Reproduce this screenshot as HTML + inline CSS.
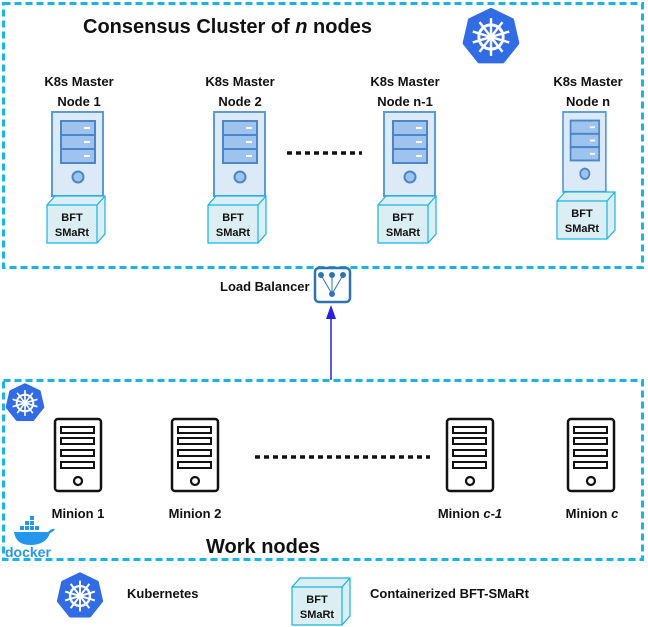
<!DOCTYPE html>
<html><head><meta charset="utf-8"><style>
html,body{margin:0;padding:0;background:#fff;}
svg{display:block;font-family:"Liberation Sans",sans-serif;}
.t{font-weight:bold;fill:#111;}
</style></head><body>
<svg width="648" height="627" viewBox="0 0 648 627" xmlns="http://www.w3.org/2000/svg">
<defs>
<g id="srv">
  <rect x="0" y="0" width="51" height="84" fill="#dceaf7" stroke="#5b9bd5" stroke-width="2"/>
  <rect x="9" y="9" width="34" height="14" fill="#9dc3ee" stroke="#4a86c8" stroke-width="2"/>
  <rect x="9" y="23" width="34" height="14" fill="#9dc3ee" stroke="#4a86c8" stroke-width="2"/>
  <rect x="9" y="37" width="34" height="14" fill="#9dc3ee" stroke="#4a86c8" stroke-width="2"/>
  <rect x="32" y="15" width="6" height="2" fill="#fff"/>
  <rect x="32" y="29" width="6" height="2" fill="#fff"/>
  <rect x="32" y="43" width="6" height="2" fill="#fff"/>
  <circle cx="26" cy="65" r="5.5" fill="#9dc3ee" stroke="#4a86c8" stroke-width="2"/>
</g>
<g id="bft">
  <polygon points="0,9 8,0 58,0 58,38 50,47 0,47" fill="#dbeef3" stroke="#19b4e6" stroke-width="1.2"/>
  <polyline points="0,9 50,9 58,0 M50,9 50,47" fill="none" stroke="#19b4e6" stroke-width="1.2"/>
  <line x1="50" y1="9" x2="50" y2="47" stroke="#19b4e6" stroke-width="1.2"/>
  <text x="25" y="25" font-size="11" text-anchor="middle" class="t">BFT</text>
  <text x="25" y="40" font-size="11" text-anchor="middle" class="t">SMaRt</text>
</g>
<g id="min">
  <rect x="0" y="0" width="46" height="72" rx="3" fill="#fff" stroke="#111" stroke-width="2.5"/>
  <rect x="6" y="8" width="33" height="6" fill="#fff" stroke="#111" stroke-width="2"/>
  <rect x="6" y="19" width="33" height="6" fill="#fff" stroke="#111" stroke-width="2"/>
  <rect x="6" y="31" width="33" height="6" fill="#fff" stroke="#111" stroke-width="2"/>
  <rect x="6" y="43" width="33" height="6" fill="#fff" stroke="#111" stroke-width="2"/>
  <circle cx="23" cy="62" r="4" fill="#fff" stroke="#111" stroke-width="2.2"/>
</g>
<g id="k8s">
  <polygon points="0,-20 15.6,-12.5 19.5,4.5 8.7,18 -8.7,18 -19.5,4.5 -15.6,-12.5" fill="#326ce5" stroke="#326ce5" stroke-width="3" stroke-linejoin="round"/>
  <circle cx="0" cy="0" r="9" fill="none" stroke="#fff" stroke-width="2.2"/>
  <circle cx="0" cy="0" r="2.5" fill="#fff"/>
  <g stroke="#fff" stroke-width="1.8">
    <line x1="0" y1="-14" x2="0" y2="14"/>
    <line x1="-13.5" y1="-4" x2="13.5" y2="4"/>
    <line x1="13.5" y1="-4" x2="-13.5" y2="4"/>
    <line x1="-8.5" y1="11" x2="8.5" y2="-11"/>
    <line x1="8.5" y1="11" x2="-8.5" y2="-11"/>
  </g>
</g>
</defs>

<!-- top cluster -->
<rect x="3.5" y="3.5" width="639" height="264" fill="none" stroke="#19b4e6" stroke-width="3" stroke-dasharray="7,4"/>
<text x="83" y="33" font-size="20" class="t">Consensus Cluster of <tspan font-style="italic">n</tspan> nodes</text>
<use href="#k8s" transform="translate(491,37) scale(1.35)"/>

<g font-size="13" class="t" text-anchor="middle">
<text x="79" y="86">K8s Master</text><text x="79" y="106">Node 1</text>
<text x="240" y="86">K8s Master</text><text x="240" y="106">Node 2</text>
<text x="405" y="86">K8s Master</text><text x="405" y="106">Node n-1</text>
<text x="588" y="86">K8s Master</text><text x="588" y="106">Node n</text>
</g>
<use href="#srv" x="52" y="112"/>
<use href="#srv" x="214" y="112"/>
<use href="#srv" x="384" y="112"/>
<use href="#srv" x="563" y="112" transform="translate(563,112) scale(0.84,0.95) translate(-563,-112)"/>
<use href="#bft" x="47" y="196"/>
<use href="#bft" x="208" y="196"/>
<use href="#bft" x="378" y="196"/>
<use href="#bft" x="557" y="192"/>
<line x1="287" y1="153" x2="362" y2="153" stroke="#111" stroke-width="3.5" stroke-dasharray="5,4"/>

<!-- load balancer -->
<text x="220" y="291" font-size="13" class="t">Load Balancer</text>
<rect x="315" y="268" width="35" height="34" rx="4" fill="#fff" stroke="#2e74b5" stroke-width="2.5"/>
<g fill="#2e74b5" stroke="#2e74b5" stroke-width="1">
  <circle cx="321" cy="275" r="2.5"/><circle cx="332" cy="275" r="2.5"/><circle cx="343" cy="275" r="2.5"/><circle cx="332" cy="294" r="2.5"/>
  <line x1="321" y1="275" x2="332" y2="294"/><line x1="332" y1="275" x2="332" y2="294"/><line x1="343" y1="275" x2="332" y2="294"/>
</g>
<line x1="331" y1="380" x2="331" y2="315" stroke="#2a1ee0" stroke-width="1.5"/>
<polygon points="331,305 326,319 336,319" fill="#2a1ee0"/>

<!-- work nodes -->
<rect x="3.5" y="380.5" width="639" height="179" fill="none" stroke="#19b4e6" stroke-width="3" stroke-dasharray="7,4"/>
<use href="#k8s" transform="translate(25,403) scale(0.92)"/>
<use href="#min" x="55" y="419"/>
<use href="#min" x="172" y="419"/>
<use href="#min" x="447" y="419"/>
<use href="#min" x="568" y="419"/>
<line x1="255" y1="457" x2="430" y2="457" stroke="#111" stroke-width="3.5" stroke-dasharray="5,4"/>
<g font-size="13" class="t" text-anchor="middle">
<text x="78" y="518">Minion 1</text>
<text x="195" y="518">Minion 2</text>
<text x="470" y="518">Minion <tspan font-style="italic">c-1</tspan></text>
<text x="592" y="518">Minion <tspan font-style="italic">c</tspan></text>
</g>
<text x="206" y="553" font-size="20" class="t">Work nodes</text>
<!-- docker -->
<g fill="#2496ed">
  <path d="M14,532 h34 q4,-4 7,-3 q-2,3 -5,4 q-4,12 -20,12 q-14,0 -16,-13z"/>
  <rect x="20" y="526" width="4" height="4"/><rect x="25" y="526" width="4" height="4"/><rect x="30" y="526" width="4" height="4"/><rect x="35" y="526" width="4" height="4"/>
  <rect x="25" y="521" width="4" height="4"/><rect x="30" y="521" width="4" height="4"/><rect x="30" y="516" width="4" height="4"/>
</g>
<text x="5" y="557" font-size="14" fill="#2496ed" font-weight="bold">docker</text>

<!-- legend -->
<use href="#k8s" transform="translate(80,596) scale(1.1)"/>
<text x="127" y="598" font-size="13" class="t">Kubernetes</text>
<use href="#bft" x="292" y="578"/>
<text x="370" y="598" font-size="13" class="t">Containerized BFT-SMaRt</text>
</svg>
</body></html>
